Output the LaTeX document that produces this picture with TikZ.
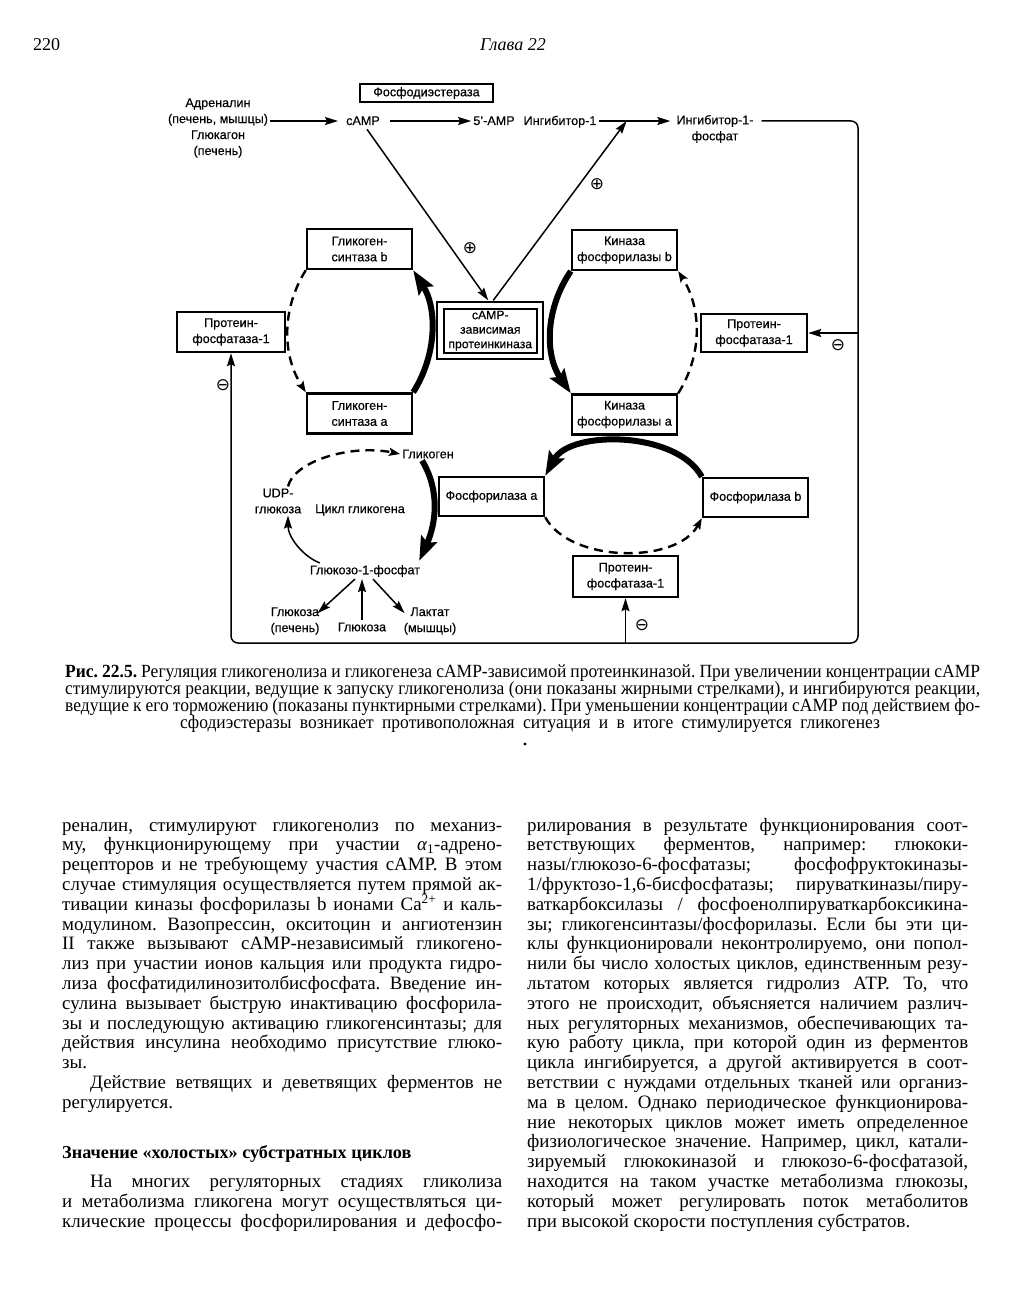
\documentclass[tikz,border=0pt]{standalone}
\usepackage{fontspec}
\setmainfont{Liberation Serif}
\newfontfamily\dgfont[FakeBold=0.4]{Liberation Sans}
\newfontfamily\capserif[FakeStretch=0.94]{Liberation Serif}
\newfontfamily\symfont{DejaVu Sans}
\usetikzlibrary{arrows.meta,calc}
\frenchspacing
\newcommand\bodyfont{\fontsize{18.9pt}{19.8pt}\selectfont}
\newcommand\capfont{\capserif\fontsize{18.6pt}{17pt}\selectfont}
\newcommand\LCline[1]{\makebox[440pt][s]{#1}}
\newcommand\RCline[1]{\makebox[441pt][s]{#1}}
\newcommand\CAPline[1]{\makebox[915pt][s]{#1}}
\newcommand\lftline[2]{\node[bt] (L#1) at (62,{831+19.8*(#1-1)}) {\LCline{#2}};}
\newcommand\rgtline[2]{\node[bt] (R#1) at (527,{831+19.8*(#1-1)}) {\RCline{#2}};}
\begin{document}
\begin{tikzpicture}[x=1pt,y=-1pt,
 dg/.style={font={\dgfont\fontsize{12.6pt}{16pt}\selectfont}},
 box/.style={dg, draw, line width=2.4pt, minimum width=105pt, minimum height=40pt, inner sep=1pt, align=center},
 lbl/.style={dg, inner sep=2pt, align=center},
 conn/.style={line width=1.5pt},
 arr/.style={conn, -{Stealth[length=13pt,width=8pt,inset=2pt]}},
 heavy/.style={line width=6pt, -{Stealth[length=24pt,width=17pt,inset=4pt]}},
 dashedarr/.style={line width=2.4pt, dash pattern=on 9pt off 6pt, -{Stealth[length=11pt,width=8pt,inset=2pt]}},
 sym/.style={font={\symfont\fontsize{17pt}{17pt}\selectfont}, inner sep=0pt},
 bt/.style={inner sep=0pt, font=\bodyfont, anchor=base west},
 ct/.style={inner sep=0pt, font=\capfont, anchor=base west},
]
\useasboundingbox (0,0) rectangle (1010,1300);
\fill[white] (0,0) rectangle (1010,1300);

% header
\node[inner sep=0pt, font=\fontsize{18pt}{20pt}\selectfont, anchor=base west] (pgno) at (33,51) {220};
\node[inner sep=0pt, font=\fontsize{18pt}{20pt}\selectfont\itshape, anchor=base] (chap) at (513,51) {Глава 22};

% ---------- diagram ----------
\coordinate (row) at (0,121);
\node[box, minimum width=133pt, minimum height=18pt, line width=2.2pt] (pde) at (426.5,93) {Фосфодиэстераза};
\node[lbl] (adr) at (218,128) {Адреналин\\(печень, мышцы)\\Глюкагон\\(печень)};
\node[lbl, anchor=base] (camp) at (363,125) {cAMP};
\node[lbl, anchor=base] (amp) at (494,125) {5’-AMP};
\node[lbl, anchor=base] (inh) at (560,125) {Ингибитор-1};
\node[lbl] (inhp) at (715,129) {Ингибитор-1-\\фосфат};

\node[box] (gsb) at (359.5,249) {Гликоген-\\синтаза b};
\node[box] (gsa) at (359.5,413.5) {Гликоген-\\синтаза a};
\node[box, minimum width=108pt] (pp1L) at (231,332) {Протеин-\\фосфатаза-1};
\node[box, double, double distance=4.5pt, line width=2.2pt, minimum width=99.5pt, minimum height=50.5pt, inner sep=0pt,
      font={\dgfont\fontsize{12.2pt}{14.5pt}\selectfont}] (pka) at (490.25,330.75) {сАМР-\\зависимая\\протеинкиназа};
\node[box] (kb) at (624.5,250) {Киназа\\фосфорилазы b};
\node[box] (ka) at (624.5,414.5) {Киназа\\фосфорилазы a};
\node[box, minimum width=106pt, minimum height=38pt] (pp1R) at (754,333) {Протеин-\\фосфатаза-1};

\node[lbl] (glyc) at (428,454) {Гликоген};
\node[lbl] (udp) at (278,501) {UDP-\\глюкоза};
\node[lbl] (cyc) at (360,510) {Цикл гликогена};
\node[lbl] (g1p) at (365,571) {Глюкозо-1-фосфат};
\node[lbl] (glcL) at (295,621) {Глюкоза\\(печень)};
\node[lbl] (glc) at (362,627) {Глюкоза};
\node[lbl] (lact) at (430,621) {Лактат\\(мышцы)};

\node[box, minimum height=39pt] (phA) at (491.5,496.5) {Фосфорилаза a};
\node[box, minimum height=39pt] (phB) at (755.5,497.5) {Фосфорилаза b};
\node[box, minimum height=41pt] (pp1B) at (625.5,576.5) {Протеин-\\фосфатаза-1};

% top row arrows
\draw[arr] (adr.east |- row) -- ($(camp.west |- row)+(-6,0)$);
\draw[arr] ($(camp.east |- row)+(8,0)$) -- (amp.west |- row);
\coordinate (j) at ($(inh.east |- row)+(28,0)$);
\draw[arr] (inh.east |- row) -- ($(inhp.west |- row)+(-4,0)$);
\draw[arr] ($(camp.south)+(4,2)$) -- ($(pka.north)+(-2,-4)$);
\draw[arr] ($(pka.north)+(3,-4)$) -- (j);

% feedback frame
\coordinate (tr) at (858,121);
\coordinate (br) at (858,643);
\coordinate (bl) at (pp1L.south |- br);
\draw[arr, rounded corners=7pt] ($(inhp.east |- row)+(6,0)$) -- (tr) -- (br) -- (bl) -- (pp1L.south);
\draw[arr] (br |- pp1R.east) -- (pp1R.east);
\draw[arr] (pp1B.south |- br) -- (pp1B.south);

% glycogen synthase cycle
\draw[dashedarr] (gsb.south west) .. controls ($(gsb.south west)+(-24,38)$) and ($(gsa.north west)+(-24,-38)$) .. (gsa.north west);
\draw[heavy] (gsa.north east) .. controls ($(gsa.north east)+(24,-38)$) and ($(gsb.south east)+(24,38)$) .. (gsb.south east);
% kinase cycle
\draw[heavy] (kb.south west) .. controls ($(kb.south west)+(-26,38)$) and ($(ka.north west)+(-26,-38)$) .. (ka.north west);
\draw[dashedarr] (ka.north east) .. controls ($(ka.north east)+(24,-38)$) and ($(kb.south east)+(24,38)$) .. (kb.south east);
% phosphorylase cycle
\draw[heavy] (phB.north west) .. controls ($(phB.north west)+(-25,-46)$) and ($(phA.north east)+(25,-46)$) .. (phA.north east);
\draw[dashedarr] (phA.south east) .. controls ($(phA.south east)+(25,46)$) and ($(phB.south west)+(-25,46)$) .. (phB.south west);
% glycogen cycle
\draw[dashedarr] ($(udp.north)+(10,0)$) .. controls ($(udp.north)+(16,-25)$) and ($(glyc.west)+(-50,-10)$) .. (glyc.west);
\draw[heavy] ($(glyc.south west)+(22,0)$) .. controls ($(glyc.south west)+(40,30)$) and ($(g1p.north east)+(14,-40)$) .. ($(g1p.north east)+(-3,-2)$);
\draw[arr] ($(g1p.north west)+(12,0)$) .. controls ($(g1p.north west)+(-4,-6)$) and ($(udp.south)+(10,22)$) .. ($(udp.south)+(10,0)$);
\draw[arr] ($(g1p.south)+(-10,0)$) -- ($(glcL.north east)+(-4,8)$);
\draw[arr] (glc.north) -- ($(g1p.south)+(-3,0)$);
\draw[arr] ($(g1p.south)+(8,0)$) -- ($(lact.north west)+(3,8)$);

% signs
\node[sym] (p1) at (470,248) {⊕};
\node[sym] (p2) at (597,184) {⊕};
\node[sym] (m1) at (223,385) {⊖};
\node[sym] (m2) at (838,345) {⊖};
\node[sym] (m3) at (642,625) {⊖};

% ---------- caption ----------
\node[ct] (C1) at (65,677) {\CAPline{\textbf{Рис. 22.5.} Регуляция гликогенолиза и гликогенеза сАМР-зависимой протеинкиназой. При увеличении концентрации сАМР}};
\node[ct] (C2) at (65,694) {\CAPline{стимулируются реакции, ведущие к запуску гликогенолиза (они показаны жирными стрелками), и ингибируются реакции,}};
\node[ct] (C3) at (65,711) {\CAPline{ведущие к его торможению (показаны пунктирными стрелками). При уменьшении концентрации сАМР под действием фо-}};
\node[ct, anchor=base] (C4) at (530,728) {\makebox[700pt][s]{сфодиэстеразы возникает противоположная ситуация и в итоге стимулируется гликогенез}};
\fill (525,744) circle (1.6);

% ---------- left column ----------
\lftline{1}{реналин, стимулируют гликогенолиз по механиз-}
\lftline{2}{му, функционирующему при участии {\itshape α}\textsubscript{1}-адрено-}
\lftline{3}{рецепторов и не требующему участия сАМР. В этом}
\lftline{4}{случае стимуляция осуществляется путем прямой ак-}
\lftline{5}{тивации киназы фосфорилазы b ионами Ca\textsuperscript{2+} и каль-}
\lftline{6}{модулином. Вазопрессин, окситоцин и ангиотензин}
\lftline{7}{II также вызывают сАМР-независимый гликогено-}
\lftline{8}{лиз при участии ионов кальция или продукта гидро-}
\lftline{9}{лиза фосфатидилинозитолбисфосфата. Введение ин-}
\lftline{10}{сулина вызывает быструю инактивацию фосфорила-}
\lftline{11}{зы и последующую активацию гликогенсинтазы; для}
\lftline{12}{действия инсулина необходимо присутствие глюко-}
\node[bt] (L13) at (62,1068.6) {зы.};
\node[bt] (L14) at (90,1088.4) {\makebox[412pt][s]{Действие ветвящих и деветвящих ферментов не}};
\node[bt] (L15) at (62,1108.2) {регулируется.};
\node[bt, font={\fontsize{18.2pt}{19pt}\selectfont\bfseries}] (H) at (62,1158) {Значение «холостых» субстратных циклов};
\node[bt] (L16) at (90,1187.4) {\makebox[412pt][s]{На многих регуляторных стадиях гликолиза}};
\node[bt] (L17) at (62,1207.2) {\LCline{и метаболизма гликогена могут осуществляться ци-}};
\node[bt] (L18) at (62,1227) {\LCline{клические процессы фосфорилирования и дефосфо-}};

% ---------- right column ----------
\rgtline{1}{рилирования в результате функционирования соот-}
\rgtline{2}{ветствующих ферментов, например: глюкоки-}
\rgtline{3}{назы/глюкозо-6-фосфатазы; фосфофруктокиназы-}
\rgtline{4}{1/фруктозо-1,6-бисфосфатазы; пируваткиназы/пиру-}
\rgtline{5}{ваткарбоксилазы / фосфоенолпируваткарбоксикина-}
\rgtline{6}{зы; гликогенсинтазы/фосфорилазы. Если бы эти ци-}
\rgtline{7}{клы функционировали неконтролируемо, они попол-}
\rgtline{8}{нили бы число холостых циклов, единственным резу-}
\rgtline{9}{льтатом которых является гидролиз АТР. То, что}
\rgtline{10}{этого не происходит, объясняется наличием различ-}
\rgtline{11}{ных регуляторных механизмов, обеспечивающих та-}
\rgtline{12}{кую работу цикла, при которой один из ферментов}
\rgtline{13}{цикла ингибируется, а другой активируется в соот-}
\rgtline{14}{ветствии с нуждами отдельных тканей или организ-}
\rgtline{15}{ма в целом. Однако периодическое функционирова-}
\rgtline{16}{ние некоторых циклов может иметь определенное}
\rgtline{17}{физиологическое значение. Например, цикл, катали-}
\rgtline{18}{зируемый глюкокиназой и глюкозо-6-фосфатазой,}
\rgtline{19}{находится на таком участке метаболизма глюкозы,}
\rgtline{20}{который может регулировать поток метаболитов}
\node[bt] (R21) at (527,1227) {при высокой скорости поступления субстратов.};
\end{tikzpicture}
\end{document}
